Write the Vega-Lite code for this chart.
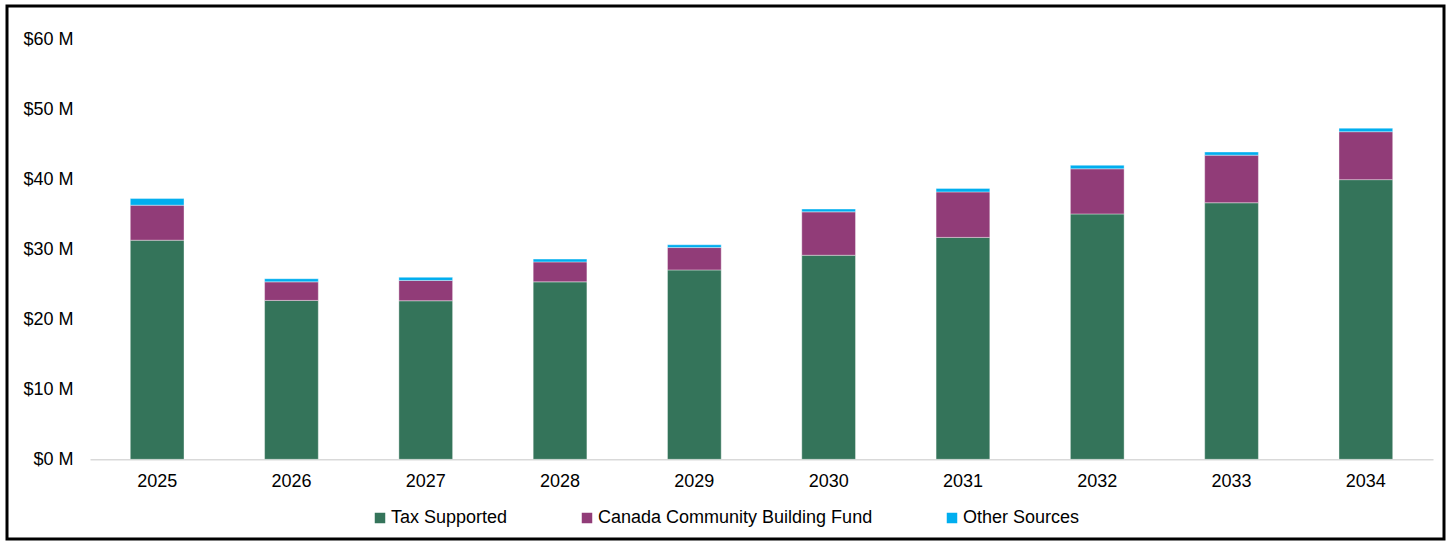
{
  "$schema": "https://vega.github.io/schema/vega-lite/v6.json",
  "autosize": {"type": "none"},
  "padding": {"left": 7, "top": 6, "right": 6, "bottom": 3},
  "width": 1437,
  "height": 533,
  "background": "white",
  "config": {
    "view": {"stroke": "black", "strokeWidth": 3},
    "font": "Liberation Sans"
  },
  "data": {
    "values": [
      {"year": "2025", "source": "Tax Supported", "value": 31.3},
      {"year": "2025", "source": "Canada Community Building Fund", "value": 5.0},
      {"year": "2025", "source": "Other Sources", "value": 0.95},
      {"year": "2026", "source": "Tax Supported", "value": 22.7},
      {"year": "2026", "source": "Canada Community Building Fund", "value": 2.65},
      {"year": "2026", "source": "Other Sources", "value": 0.45},
      {"year": "2027", "source": "Tax Supported", "value": 22.65},
      {"year": "2027", "source": "Canada Community Building Fund", "value": 2.9},
      {"year": "2027", "source": "Other Sources", "value": 0.45},
      {"year": "2028", "source": "Tax Supported", "value": 25.35},
      {"year": "2028", "source": "Canada Community Building Fund", "value": 2.85},
      {"year": "2028", "source": "Other Sources", "value": 0.4},
      {"year": "2029", "source": "Tax Supported", "value": 27.05},
      {"year": "2029", "source": "Canada Community Building Fund", "value": 3.2},
      {"year": "2029", "source": "Other Sources", "value": 0.4},
      {"year": "2030", "source": "Tax Supported", "value": 29.15},
      {"year": "2030", "source": "Canada Community Building Fund", "value": 6.2},
      {"year": "2030", "source": "Other Sources", "value": 0.4},
      {"year": "2031", "source": "Tax Supported", "value": 31.7},
      {"year": "2031", "source": "Canada Community Building Fund", "value": 6.5},
      {"year": "2031", "source": "Other Sources", "value": 0.5},
      {"year": "2032", "source": "Tax Supported", "value": 35.05},
      {"year": "2032", "source": "Canada Community Building Fund", "value": 6.45},
      {"year": "2032", "source": "Other Sources", "value": 0.5},
      {"year": "2033", "source": "Tax Supported", "value": 36.65},
      {"year": "2033", "source": "Canada Community Building Fund", "value": 6.8},
      {"year": "2033", "source": "Other Sources", "value": 0.45},
      {"year": "2034", "source": "Tax Supported", "value": 39.95},
      {"year": "2034", "source": "Canada Community Building Fund", "value": 6.85},
      {"year": "2034", "source": "Other Sources", "value": 0.5}
    ]
  },
  "transform": [
    {"calculate": "indexof(['Tax Supported', 'Canada Community Building Fund', 'Other Sources'], datum.source)", "as": "stackOrder"}
  ],
  "mark": {"type": "bar", "stroke": "white", "strokeWidth": 0.75, "strokeOpacity": 0.5},
  "encoding": {
    "x": {
      "field": "year",
      "type": "ordinal",
      "scale": {"range": [83, 1426], "paddingInner": 0.6, "paddingOuter": 0.3},
      "axis": {
        "title": null,
        "orient": "bottom",
        "offset": -79.7,
        "ticks": false,
        "tickSize": 0,
        "labelAngle": 0,
        "labelFontSize": 18,
        "labelColor": "#000000",
        "labelPadding": 13,
        "domainColor": "#d9d9d9",
        "domainWidth": 1.5
      }
    },
    "y": {
      "field": "value",
      "type": "quantitative",
      "stack": "zero",
      "scale": {"domain": [0, 60], "range": [453.3, 33.3], "nice": false},
      "axis": {
        "title": null,
        "values": [0, 10, 20, 30, 40, 50, 60],
        "labelExpr": "'$' + datum.value + ' M'",
        "grid": false,
        "domain": false,
        "ticks": false,
        "tickSize": 0,
        "labelPadding": 0,
        "offset": -66,
        "labelFontSize": 18,
        "labelColor": "#000000"
      }
    },
    "order": {"field": "stackOrder", "type": "quantitative", "sort": "ascending"},
    "color": {
      "field": "source",
      "type": "nominal",
      "sort": ["Tax Supported", "Canada Community Building Fund", "Other Sources"],
      "scale": {
        "domain": ["Tax Supported", "Canada Community Building Fund", "Other Sources"],
        "range": ["#34745A", "#913C78", "#00AEEF"]
      },
      "legend": {
        "title": null,
        "orient": "none",
        "legendX": 364,
        "legendY": 503,
        "direction": "horizontal",
        "symbolType": "square",
        "symbolSize": 110,
        "symbolStrokeWidth": 0,
        "symbolOpacity": 1,
        "labelFontSize": 18,
        "labelColor": "#000000",
        "labelOffset": 2,
        "labelLimit": 400,
        "columnPadding": 70
      }
    }
  }
}
